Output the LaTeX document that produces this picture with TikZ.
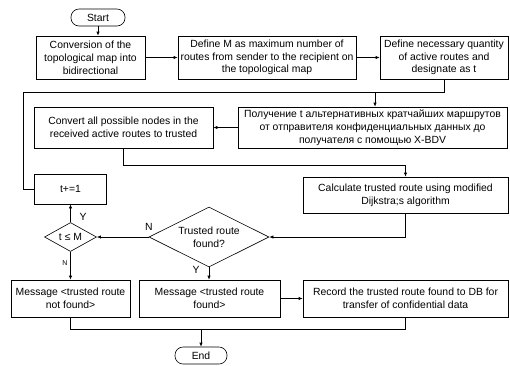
\documentclass[tikz,border=0pt]{standalone}
\usepackage{fontspec}
\setmainfont{Liberation Sans}
\usetikzlibrary{calc,shapes.geometric,arrows.meta}

\tikzset{
  box/.style={draw,rectangle,align=center,inner sep=1pt,font=\fontsize{10.4}{12.8}\selectfont},
  term/.style={draw,rectangle,rounded corners=8pt,minimum width=54pt,minimum height=17pt,inner sep=1pt,font=\fontsize{10.4}{12}\selectfont},
  dec/.style={draw,diamond,aspect=2,inner sep=0pt,align=center,font=\fontsize{10.4}{12.8}\selectfont},
  lbl/.style={inner sep=0pt,font=\fontsize{10.4}{12}\selectfont},
}

\begin{document}
\begin{tikzpicture}[x=1pt,y=-1pt,line width=.6pt,>={Latex[length=4pt,width=3.2pt]}]
      \useasboundingbox (0,0) rectangle (510,365);

      \node (start) at (98,17.5) [term] {Start};
      \node (b1) at (90.5,57.5) [box,minimum width=109pt,minimum height=43pt] {Conversion of the\\topological map into\\bidirectional};
      \node (b2) at (267,57.5) [box,minimum width=178pt,minimum height=43pt] {Define M as maximum number of\\routes from sender to the recipient on\\the topological map};
      \node (b3) at (444,57.5) [box,minimum width=128pt,minimum height=43pt] {Define necessary quantity\\of active routes and\\designate as t};
      \node (b4) at (372.5,127.5) [box,minimum width=269pt,minimum height=41pt] {Получение t альтернативных кратчайших маршрутов\\от отправителя конфиденциальных данных до\\получателя с помощью X-BDV};
      \node (b5) at (123.5,127.5) [box,minimum width=179pt,minimum height=41pt] {Convert all possible nodes in the\\received active routes to trusted};
      \node (b6) at (405.5,195) [box,minimum width=205pt,minimum height=36pt] {Calculate trusted route using modified\\Dijkstra;s algorithm};
      \node (t) at (70.5,189) [box,minimum width=72pt,minimum height=30pt] {t+=1};
      \node (d1) at (209,237) [dec,minimum width=120pt,minimum height=60pt] {Trusted route\\found?};
      \node (d2) at (70.5,237) [dec,minimum width=52pt,minimum height=29pt] {t ≤ M};
      \node (b7) at (70.5,298.5) [box,minimum width=119pt,minimum height=37pt] {Message <trusted route\\not found>};
      \node (b8) at (209.5,298.5) [box,minimum width=141pt,minimum height=37pt] {Message <trusted route\\found>};
      \node (b9) at (405.5,298.5) [box,minimum width=205pt,minimum height=37pt] {Record the trusted route found to DB for\\transfer of confidential data};
      \node (end) at (201,355.5) [term,minimum width=52pt] {End};

      \coordinate (j0) at (23,189);
      \coordinate (j1) at (375,92);
      \coordinate (j2) at (405.5,165);
      \coordinate (j3) at (201,329);

      \draw[->] (start) -- (start |- b1.north);
      \draw[->] (b1) -- (b2);
      \draw[->] (b2) -- (b3);
      \draw[->] (b3.south) |- (j1) -- (j1 |- b4.north);
      \draw (t.west) -- (j0) |- (j1);
      \draw[->] (b4) -- (b5);
      \draw[->] (b5.south) |- (j2) -- (b6.north);
      \draw[->] (b6.south) |- (d1.east);
      \draw[->] (d1.west) -- (d2.east);
      \draw[->] (d2.north) -- (t.south);
      \draw[->] (d2.south) -- (b7.north);
      \draw[->] (d1.south) -- (d1.south |- b8.north);
      \draw[->] (b8) -- (b9);
      \draw (b7.south) |- (j3) -| (b9.south);
      \draw[->] (j3) -- (end.north);

      \node (lN1) at (149,227) [lbl] {N};
      \node (lY1) at (83,217) [lbl] {Y};
      \node (lN2) at (65,263) [lbl,font=\fontsize{7}{8}\selectfont] {N};
      \node (lY2) at (196,270) [lbl] {Y};
\end{tikzpicture}
\end{document}
